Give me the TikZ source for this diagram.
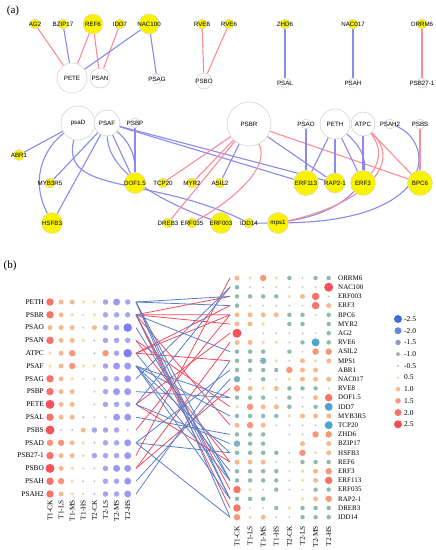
\documentclass[tikz,border=0pt]{standalone}
\usepackage{fontspec}
\setmainfont{Liberation Serif}
\newfontfamily\netsans{Liberation Sans}
\usetikzlibrary{backgrounds}
\definecolor{tfYellow}{RGB}{250,243,0}
\definecolor{rimGrey}{RGB}{212,212,212}
\definecolor{posEdge}{RGB}{250,140,150}
\definecolor{negEdge}{RGB}{138,138,236}
\definecolor{posLink}{RGB}{242,76,92}
\definecolor{negLink}{RGB}{92,126,202}
% dot colours (heat map)
\definecolor{dR}{RGB}{244,83,90}
\definecolor{dS}{RGB}{246,115,106}
\definecolor{ds}{RGB}{247,151,122}
\definecolor{do}{RGB}{246,185,140}
\definecolor{dy}{RGB}{243,219,154}
\definecolor{dt}{RGB}{201,201,187}
\definecolor{dg}{RGB}{143,186,178}
\definecolor{dG}{RGB}{127,178,190}
\definecolor{dB}{RGB}{79,163,207}
\definecolor{dl}{RGB}{169,166,238}
\definecolor{dL}{RGB}{156,153,240}
\definecolor{db}{RGB}{127,125,246}
\definecolor{dw}{RGB}{196,194,230}
% legend colours
\definecolor{lg1}{RGB}{61,111,217}
\definecolor{lg2}{RGB}{102,136,210}
\definecolor{lg3}{RGB}{141,156,192}
\definecolor{lg4}{RGB}{168,174,184}
\definecolor{lg5}{RGB}{191,194,174}
\definecolor{lg6}{RGB}{241,218,150}
\definecolor{lg7}{RGB}{245,185,142}
\definecolor{lg8}{RGB}{247,150,124}
\definecolor{lg9}{RGB}{247,112,106}
\definecolor{lg10}{RGB}{246,74,90}

\begin{document}
\begin{tikzpicture}[
            x=1pt, y=-1pt,
            % network nodes
            psnode/.style={circle, draw=rimGrey, line width=0.6pt, fill=white, inner sep=0pt},
            tfnode/.style={circle, draw=rimGrey, line width=0.4pt, fill=tfYellow, inner sep=0pt},
            every label/.style={font=\netsans\fontsize{6.2}{7}\selectfont, inner sep=0pt},
            posE/.style={draw=posEdge, line width=1.1pt},
            negE/.style={draw=negEdge, line width=1.1pt},
            % heat map
            posL/.style={draw=posLink, line width=0.8pt},
            negL/.style={draw=negLink, line width=0.8pt},
            rowlab/.style={font=\fontsize{7.3}{8}\selectfont, inner sep=0pt},
            collab/.style={font=\fontsize{7.3}{8}\selectfont, inner sep=0pt, rotate=90, anchor=east},
            dot/.style={circle, inner sep=0pt},
            dotR/.style={dot, fill=dR, minimum size=9},
            dotS/.style={dot, fill=dS, minimum size=7.5},
            dots/.style={dot, fill=ds, minimum size=6.5},
            doto/.style={dot, fill=do, minimum size=5},
            doty/.style={dot, fill=dy, minimum size=3.5},
            dott/.style={dot, fill=dt, minimum size=2.2},
            dotg/.style={dot, fill=dg, minimum size=4.5},
            dotG/.style={dot, fill=dG, minimum size=6.5},
            dotB/.style={dot, fill=dB, minimum size=8},
            dotl/.style={dot, fill=dl, minimum size=5.5},
            dotL/.style={dot, fill=dL, minimum size=7},
            dotb/.style={dot, fill=db, minimum size=8.5},
            dotw/.style={dot, fill=dw, minimum size=2.5},
            dotn/.style={dot}
        ]
        \useasboundingbox (0,0) rectangle (436,550);

        % --- Panel labels ---
        \node[font=\fontsize{11}{12}\selectfont] (pa) at (13,11) {(a)};
        \node[font=\fontsize{11}{12}\selectfont] (pb) at (10,266) {(b)};

        % --- (a) Network: first group ---
        \node[tfnode, minimum size=10, label=center:AG2] (AG2) at (35,24) {};
        \node[tfnode, minimum size=10, label=center:BZIP17] (BZIP17) at (63,24) {};
        \node[tfnode, minimum size=20, label=center:REF6] (REF6) at (93,24) {};
        \node[tfnode, minimum size=10, label=center:IDD7] (IDD7) at (120,24) {};
        \node[tfnode, minimum size=20, label=center:NAC100] (NAC100) at (149,24) {};
        \node[tfnode, minimum size=10, label=center:RVE8] (RVE8) at (202,24) {};
        \node[tfnode, minimum size=10, label=center:RVE6] (RVE6) at (229,24) {};
        \node[tfnode, minimum size=10, label=center:ZHD6] (ZHD6) at (285,24) {};
        \node[tfnode, minimum size=10, label=center:NAC017] (NAC017) at (353,24) {};
        \node[tfnode, minimum size=10, label=center:ORRM6] (ORRM6) at (422,24) {};

        \node[psnode, minimum size=30, label=center:PETE] (PETE) at (72,78) {};
        \node[psnode, minimum size=20, label=center:PSAN] (PSAN) at (100,78) {};
        \node[psnode, minimum size=10, label=center:PSAG] (PSAG) at (157,79) {};
        \node[psnode, minimum size=16, label=center:PSBO] (PSBO) at (204,81) {};
        \node[psnode, minimum size=10, label=center:PSAL] (PSAL) at (285,83) {};
        \node[psnode, minimum size=10, label=center:PSAH] (PSAH) at (353,83) {};
        \node[psnode, minimum size=10, label=center:PSB27-1] (PSB27) at (422,83) {};

        % --- (a) Network: second group ---
        \node[psnode, minimum size=34, label=center:psaD] (psaD) at (78,123) {};
        \node[psnode, minimum size=26, label=center:PSAF] (PSAF) at (107,123) {};
        \node[psnode, minimum size=10, label=center:PSBP] (PSBP) at (135,123) {};
        \node[psnode, minimum size=44, label=center:PSBR] (PSBR) at (249,124) {};
        \node[psnode, minimum size=10, label=center:PSAO] (PSAO) at (306,124) {};
        \node[psnode, minimum size=30, label=center:PETH] (PETH) at (335,124) {};
        \node[psnode, minimum size=24, label=center:ATPC] (ATPC) at (363,124) {};
        \node[psnode, minimum size=10, label=center:PSAH2] (PSAH2) at (390,124) {};
        \node[psnode, minimum size=10, label=center:PSBS] (PSBS) at (420,124) {};

        \node[tfnode, minimum size=11, label=center:ABR1] (ABR1) at (19,155) {};
        \node[tfnode, minimum size=10, label=center:MYB3R5] (MYB3R5) at (50,183) {};
        \node[tfnode, minimum size=21, label=center:DOF1.5] (DOF15) at (135,183) {};
        \node[tfnode, minimum size=10, label=center:TCP20] (TCP20) at (163,183) {};
        \node[tfnode, minimum size=10, label=center:MYR2] (MYR2) at (192,183) {};
        \node[tfnode, minimum size=10, label=center:ASIL2] (ASIL2) at (220,183) {};
        \node[tfnode, minimum size=25, label=center:ERF113] (ERF113) at (306,183) {};
        \node[tfnode, minimum size=20, label=center:RAP2-1] (RAP21) at (335,183) {};
        \node[tfnode, minimum size=25, label=center:ERF3] (ERF3) at (363,183) {};
        \node[tfnode, minimum size=25, label=center:BPC6] (BPC6) at (420,183) {};
        \node[tfnode, minimum size=21, label=center:HSFB3] (HSFB3) at (52,223) {};
        \node[tfnode, minimum size=10, label=center:DREB3] (DREB3) at (168,223) {};
        \node[tfnode, minimum size=10, label=center:ERF035] (ERF035) at (192,223) {};
        \node[tfnode, minimum size=21, label=center:ERF003] (ERF003) at (221,223) {};
        \node[tfnode, minimum size=10, label=center:IDD14] (IDD14) at (249,223) {};
        \node[tfnode, minimum size=21, label=center:mps1] (mps1) at (278,223) {};

        % --- (a) Edges ---
        \begin{scope}[on background layer]
        \path[posE] (AG2) -- (PETE);
        \path[negE] (BZIP17) -- (PETE);
        \path[posE] (REF6) -- (PETE);
        \path[posE] (REF6) -- (PSAN);
        \path[posE] (IDD7) -- (PSAN);
        \path[negE] (NAC100) -- (PETE);
        \path[negE] (NAC100) -- (PSAG);
        \path[posE] (RVE8) -- (PSBO);
        \path[posE] (RVE6) -- (PSBO);
        \path[negE] (ZHD6) -- (PSAL);
        \path[negE] (NAC017) -- (PSAH);
        \path[posE] (ORRM6) -- (PSB27);

        \path[negE] (psaD) -- (ABR1);
        \path[negE] (psaD) to[bend right=40] (HSFB3);
        \path[negE] (psaD) .. controls (60,195) and (150,175) .. (IDD14);
        \path[negE] (PSAF) -- (MYB3R5);
        \path[negE] (PSAF) -- (HSFB3);
        \path[negE] (PSAF) -- (DOF15);
        \path[negE] (PSAF) to[bend left=25] (DOF15);
        \path[negE] (PSAF) .. controls (108,175) and (170,205) .. (ERF003);
        \path[negE] (PSAF) -- (ERF113);
        \path[negE] (PSAF) -- (RAP21);
        \path[negE] (PSBP) -- (DOF15);
        \path[posE] (PSBR) -- (TCP20);
        \path[posE] (PSBR) -- (MYR2);
        \path[posE] (PSBR) -- (DREB3);
        \path[negE] (PSBR) -- (ASIL2);
        \path[posE] (PSBR) .. controls (272,170) and (225,205) .. (ERF035);
        \path[negE] (PSBR) -- (RAP21);
        \path[posE] (PSBR) -- (BPC6);
        \path[negE] (PSAO) -- (ERF113);
        \path[negE] (PETH) -- (ERF113);
        \path[negE] (PETH) -- (RAP21);
        \path[negE] (PETH) -- (ERF3);
        \path[negE] (PETH) .. controls (395,175) and (340,225) .. (IDD14);
        \path[negE] (ATPC) -- (ERF3);
        \path[posE] (ATPC) to[bend left=40] (ERF3);
        \path[posE] (ATPC) .. controls (405,165) and (360,205) .. (mps1);
        \path[posE] (ATPC) -- (BPC6);
        \path[negE] (PSAH2) .. controls (435,140) and (440,220) .. (mps1);
        \path[posE] (PSBS) -- (BPC6);
        \end{scope}

        % --- (b) Left heat map ---
        \foreach \g [count=\i] in {PETH,PSBR,PSAO,PSAN,ATPC,PSAF,PSAG,PSBP,PETE,PSAL,PSBS,PSAD,PSB27-1,PSBO,PSAH,PSAH2} {
            \node[rowlab, anchor=east] (lt\i) at (44,{302+12.8*(\i-1)}) {\g};
            \coordinate (L\i) at (136,{302+12.8*(\i-1)});
        }
        \foreach \row [count=\i] in {{S,o,o,y,y,l,L,l},{S,o,y,t,y,l,l,l},{o,o,o,t,o,l,l,b},{S,o,o,y,w,l,l,l},
            {y,o,s,n,w,s,l,b},{y,o,s,y,y,l,L,L},{S,o,y,t,t,l,l,L},{S,o,o,n,t,l,L,L},
            {R,o,o,n,t,l,l,l},{S,o,o,w,t,w,L,L},{R,t,t,o,l,l,l,w},{s,s,o,y,w,l,l,L},
            {S,o,o,y,l,l,l,L},{R,o,y,t,t,l,L,L},{S,s,y,t,t,l,l,L},{S,o,y,t,w,l,l,L}} {
            \foreach \c [count=\j] in \row {
                \node[dot\c] (p\i-\j) at ({50+11.1*(\j-1)},{302+12.8*(\i-1)}) {};
            }
        }
        \foreach \t [count=\j] in {T1-CK,T1-LS,T1-MS,T1-HS,T2-CK,T2-LS,T2-MS,T2-HS}
            \node[collab] (lc\j) at ({50+11.1*(\j-1)},500) {\t};

        % --- (b) Right heat map ---
        \foreach \g [count=\i] in {ORRM6,NAC100,ERF003,ERF3,BPC6,MYR2,AG2,RVE6,ASIL2,MPS1,ABR1,NAC017,RVE8,DOF1.5,
            IDD7,MYB3R5,TCP20,ZHD6,BZIP17,HSFB3,REF6,ERF3,ERF113,ERF035,RAP2-1,DREB3,IDD14} {
            \node[rowlab, anchor=west, font=\fontsize{7}{8}\selectfont] (rt\i) at (338,{278+9.2*(\i-1)}) {\g};
            \coordinate (R\i) at (230,{278+9.2*(\i-1)});
        }
        \foreach \row [count=\i] in {{o,y,s,y,g,t,g,g},{g,t,t,t,t,t,t,R},{g,g,g,g,y,o,S,t},{g,t,t,t,t,t,S,o},
            {o,o,o,o,g,g,t,g},{o,o,y,n,g,g,n,g},{R,n,t,t,t,t,t,g},{o,o,y,y,t,g,B,g},
            {g,g,g,n,g,t,s,s},{g,g,G,y,t,o,y,o},{g,g,g,g,s,o,o,n},{G,t,g,t,y,o,o,o},
            {s,o,y,o,g,g,g,t},{g,g,g,t,g,t,o,S},{y,s,o,o,g,t,g,B},{g,g,g,g,y,o,o,o},
            {o,s,o,t,t,t,t,B},{g,g,g,n,t,t,s,s},{G,g,g,n,n,o,n,o},{g,g,g,g,t,s,y,o},
            {o,o,o,t,t,g,g,g},{g,g,g,g,t,y,o,s},{g,g,g,g,t,y,o,S},{S,y,t,g,t,t,g,g},
            {g,g,g,n,n,y,o,s},{S,t,t,g,y,g,g,g},{s,y,o,t,t,g,g,g}} {
            \foreach \c [count=\j] in \row {
                \node[dot\c] (q\i-\j) at ({237+13.1*(\j-1)},{278+9.2*(\i-1)}) {};
            }
        }
        \foreach \t [count=\j] in {T1-CK,T1-LS,T1-MS,T1-HS,T2-CK,T2-LS,T2-MS,T2-HS}
            \node[collab] (rc\j) at ({237+13.1*(\j-1)},526) {\t};

        % --- (b) Links ---
        \foreach \a/\b in {9/7,9/21,4/21,4/15,14/13,14/8,13/1,2/17,2/6,2/26,2/24,2/5,5/4,5/10,5/5,11/5,2/3}
            \draw[posL] (L\a) -- (R\b);
        \foreach \a/\b in {9/19,9/2,7/2,10/18,15/12,12/11,12/20,12/27,6/16,6/20,6/14,8/14,6/23,6/25,
            2/9,2/25,3/23,1/23,1/25,1/4,5/22,16/10,1/3,1/27}
            \draw[negL] (L\a) -- (R\b);

        % --- (b) Legend ---
        \foreach \v/\s [count=\k] in {-2.5/8,-2.0/7,-1.5/5.5,-1.0/4,-0.5/2.5,0.5/2.5,1.0/4.5,1.5/5.5,2.0/7,2.5/8} {
            \node[dot, fill=lg\k, minimum size=\s] (lg\k) at (398,{319+11.7*(\k-1)}) {};
            \node[anchor=west, font=\fontsize{7.5}{8}\selectfont, inner sep=0pt] (lv\k) at (404,{319+11.7*(\k-1)}) {\v};
        }
        \end{tikzpicture}
\end{document}
